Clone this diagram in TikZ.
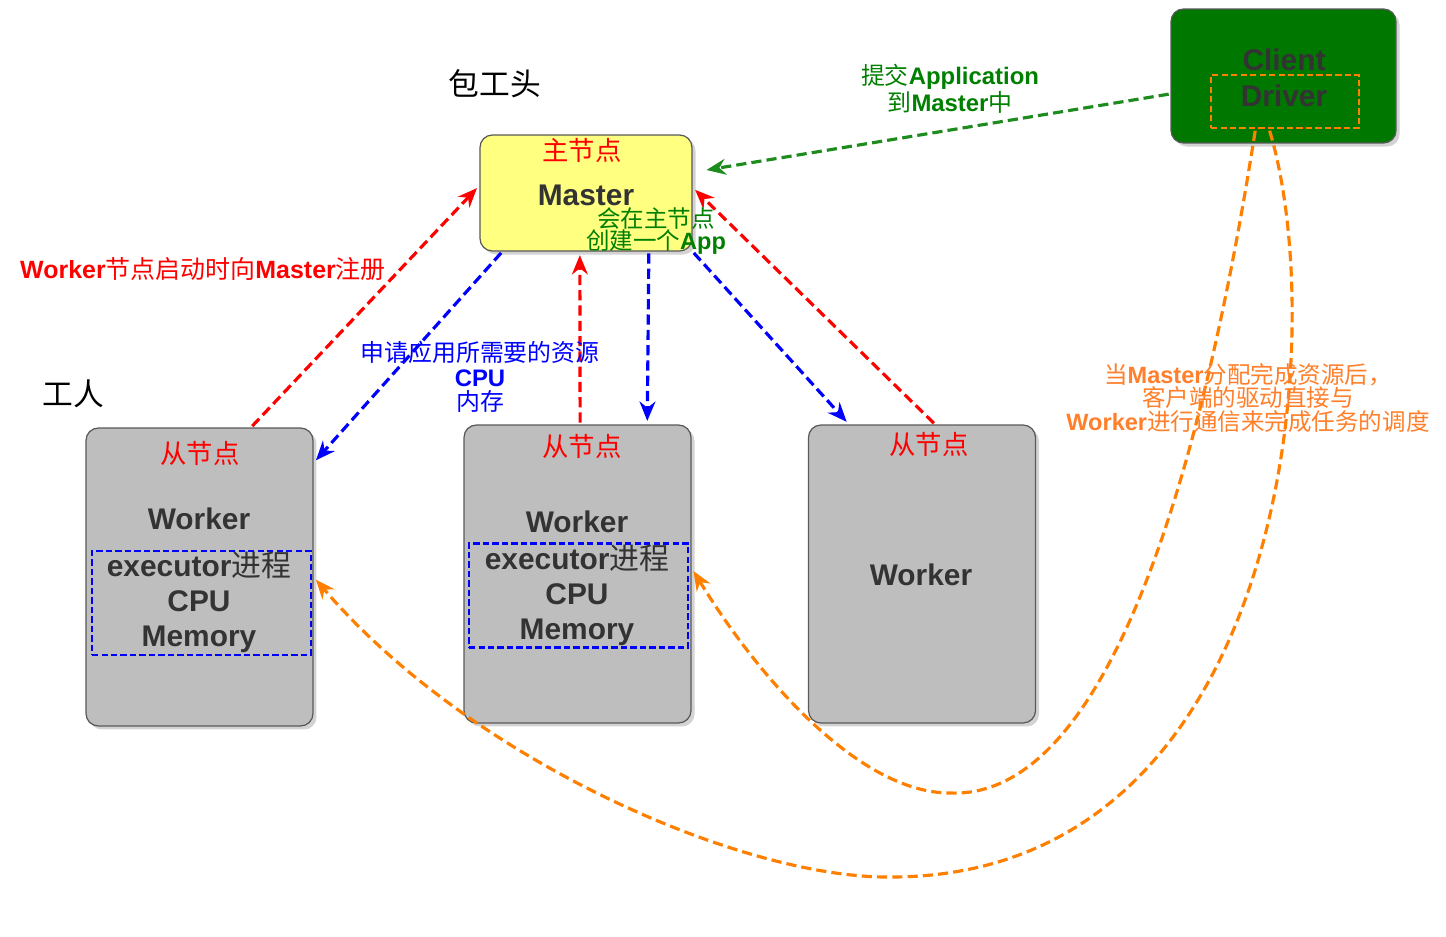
\documentclass[tikz,border=0pt]{standalone}
\usepackage{fontspec}
\setmainfont{Liberation Sans}
\newfontfamily\cjk{Noto Sans CJK SC}
\newcommand\zh[1]{{\cjk\mdseries #1}}
\usetikzlibrary{arrows.meta,shadows}
\definecolor{masterfill}{HTML}{FFFF80}
\definecolor{workerfill}{HTML}{BEBEBE}
\definecolor{clientfill}{HTML}{007800}
\definecolor{boxtext}{HTML}{333333}
\definecolor{appgreen}{HTML}{008000}
\definecolor{linegreen}{HTML}{1E8B1E}
\definecolor{drvorange}{HTML}{FF8000}
\definecolor{noteorange}{HTML}{FF7F2A}
\definecolor{execblue}{HTML}{0000FF}

\begin{document}
\begin{tikzpicture}[x=0.02cm, y=-0.02cm,
    panel/.style={draw=black!65, line width=0.7pt, rounded corners=7pt, drop shadow={shadow xshift=2pt, shadow yshift=-2pt, opacity=0.35}},
    master/.style={panel, fill=masterfill, minimum width=4.24cm, minimum height=2.32cm},
    worker/.style={panel, fill=workerfill, minimum width=4.54cm, minimum height=5.96cm},
    client/.style={panel, fill=clientfill, minimum width=4.5cm, minimum height=2.68cm},
    execbox/.style={draw=execblue, line width=1.2pt, dash pattern=on 3.6pt off 1.8pt, minimum width=4.38cm, minimum height=2.08cm},
    big/.style={text=boxtext, font=\fontsize{17}{20}\selectfont\bfseries, align=center, inner sep=0pt},
    tag/.style={text=red, font=\fontsize{15}{18}\selectfont, inner sep=0pt},
    note/.style={font=\fontsize{13.6}{14}\selectfont, align=center, inner sep=0pt},
    flow/.style={line width=1.8pt, dash pattern=on 5.8pt off 2.9pt, -{Stealth[length=11pt, width=9pt]}, shorten >=2pt, shorten <=1pt}
]
\useasboundingbox (0,0) rectangle (1446,936);

% Master
\node[master] (m) at (586,193) {};
\node[tag] (mtag) at (582,150) {\zh{主节点}};
\node[big] (mt) at (586,195) {Master};
\node[font=\fontsize{17.5}{20}\selectfont, inner sep=0pt] (boss) at (495,84) {\zh{包工头}};

% Client
\node[client] (c) at (1283.5,76) {};
\node[big] (ct) at (1284,60) {Client};
\node[draw=drvorange, line width=1.2pt, dash pattern=on 3.6pt off 1.8pt, minimum width=2.96cm, minimum height=1.06cm] (d) at (1285,101.5) {};
\node[big] (dt) at (1284,96) {Driver};

% Workers
\node[font=\fontsize{17.5}{20}\selectfont, inner sep=0pt] (crew) at (73,394) {\zh{工人}};
\node[worker] (w1) at (199.5,577) {};
\node[worker] (w2) at (577.5,574) {};
\node[worker] (w3) at (922,574) {};
\node[execbox] (x1) at (201.5,603) {};
\node[execbox] (x2) at (578.5,595.5) {};
\node[tag] (t1) at (200,453) {\zh{从节点}};
\node[tag] (t2) at (582,446) {\zh{从节点}};
\node[tag] (t3) at (929,444) {\zh{从节点}};
\node[big] (wt1) at (199,519) {Worker};
\node[big] (wt2) at (577,522) {Worker};
\node[big] (wt3) at (921,575) {Worker};
\node[big] (e1) at (199,602) {executor\zh{进程}\\CPU\\Memory};
\node[big] (e2) at (577,595) {executor\zh{进程}\\CPU\\Memory};

% Registration
\draw[flow, red] (w1.71) -- (m.176);
\draw[flow, red] (w2.89) -- (m.264);
\draw[flow, red] (w3.85) -- (m.3);

% Resources
\draw[flow, blue] (m.215) -- (w1.45);
\draw[flow, blue] (m.317) -- (w2.65);
\draw[flow, blue] (m.south east) -- (w3.116);

% Submit
\draw[flow, linegreen, shorten >=8pt] (c.189) -- (m.11);

% Driver to executors
\draw[flow, drvorange] (d.223) .. controls (1210,420) and (1120,800) .. (950,793) .. controls (860,793) and (760,680) .. (w2.3);
\draw[flow, drvorange] (d.240) .. controls (1330,330) and (1290,880) .. (887,877) .. controls (740,877) and (470,760) .. (w1.0);

% Labels
\node[note, text=red, font=\fontsize{14.2}{15}\selectfont] (reg) at (203,269) {\textbf{Worker}\zh{节点启动时向}\textbf{Master}\zh{注册}};
\node[note, text=blue] (req) at (480,377) {\zh{申请应用所需要的资源}\\\textbf{CPU}\\\zh{内存}};
\node[note, text=appgreen] (sub) at (950,89) {\zh{提交}\textbf{Application}\\\zh{到}\textbf{Master}\zh{中}};
\node[note, text=appgreen, font=\fontsize{13.4}{13}\selectfont] (app) at (656,231) {\zh{会在主节点}\\\zh{创建一个}\textbf{App}};
\node[note, text=noteorange, font=\fontsize{13.4}{13.6}\selectfont] (sched) at (1248,398) {\zh{当}\textbf{Master}\zh{分配完成资源后，}\\\zh{客户端的驱动直接与}\\\textbf{Worker}\zh{进行通信来完成任务的调度}};

\end{tikzpicture}
\end{document}
